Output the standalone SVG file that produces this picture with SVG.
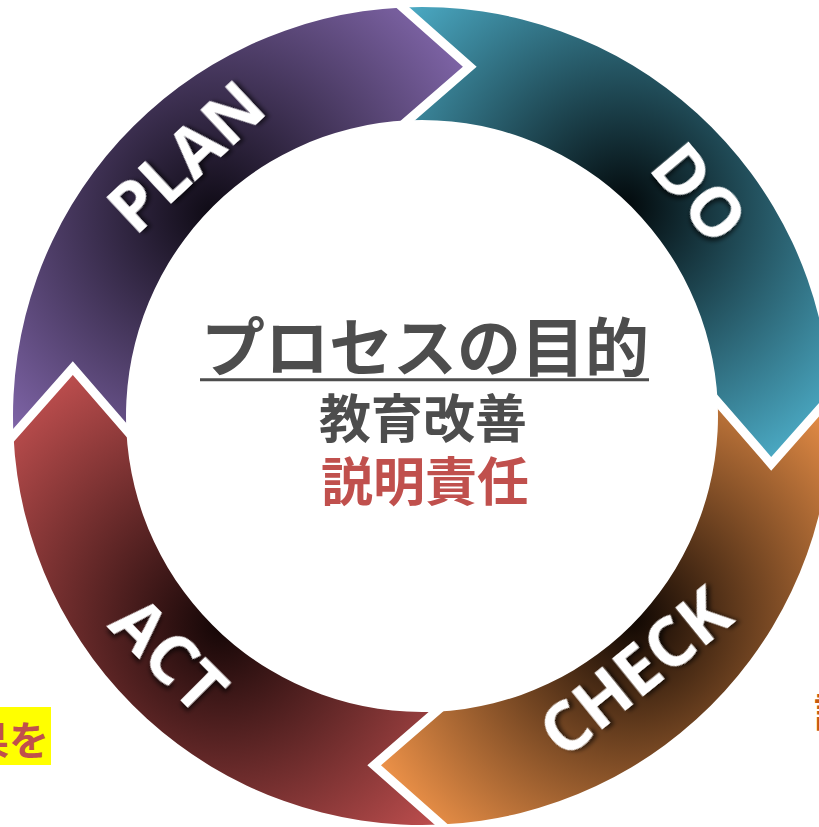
<svg xmlns="http://www.w3.org/2000/svg" width="819" height="827" viewBox="0 0 819 827">
  <defs>
    <radialGradient id="gPlan" gradientUnits="userSpaceOnUse" cx="213.4" cy="214.5" r="290">
      <stop offset="0" stop-color="#0e0a14"/>
      <stop offset="1" stop-color="#7d63a5"/>
    </radialGradient>
    <radialGradient id="gDo" gradientUnits="userSpaceOnUse" cx="623.4" cy="207.4" r="290">
      <stop offset="0" stop-color="#02080a"/>
      <stop offset="1" stop-color="#4aa8c2"/>
    </radialGradient>
    <radialGradient id="gCheck" gradientUnits="userSpaceOnUse" cx="630.6" cy="617.4" r="290">
      <stop offset="0" stop-color="#0e0602"/>
      <stop offset="1" stop-color="#ec9148"/>
    </radialGradient>
    <radialGradient id="gAct" gradientUnits="userSpaceOnUse" cx="220.6" cy="624.6" r="290">
      <stop offset="0" stop-color="#140606"/>
      <stop offset="1" stop-color="#bb4d4d"/>
    </radialGradient>
    <filter id="shadow" x="-20%" y="-40%" width="140%" height="180%">
      <feDropShadow dx="3" dy="3" stdDeviation="2" flood-color="#000" flood-opacity="0.6"/>
    </filter>
  </defs>
  <style>
    .lbl { font-family: "Open Sans", "Liberation Sans", sans-serif; font-weight: 700; font-size: 68px; fill: #ffffff; text-anchor: middle; filter: url(#shadow); }
    .cjk { font-family: "Noto Sans CJK JP", "Noto Sans", sans-serif; font-weight: 700; text-anchor: middle; }
    .gap { fill: none; stroke: #ffffff; stroke-width: 9; stroke-linejoin: miter; stroke-miterlimit: 10; }
  </style>
  <rect x="0" y="0" width="819" height="827" fill="#ffffff"/>

  <g id="plan">
    <path d="M 13.45 435.27 A 409 409 0 0 1 402.73 7.45 L 469.84 66.76 L 408.06 120.33 A 296 296 0 0 0 126.33 429.94 L 72.76 368.16 Z" fill="url(#gPlan)"/>
    <text class="lbl" transform="translate(186,157) rotate(-43)" x="0" y="24">PLAN</text>
  </g>
  <g id="do">
    <path d="M 402.73 7.45 A 409 409 0 0 1 830.55 396.73 L 771.24 463.84 L 717.67 402.06 A 296 296 0 0 0 408.06 120.33 L 469.84 66.76 Z" fill="url(#gDo)"/>
    <text class="lbl" transform="translate(699,193) rotate(50)" x="0" y="24">DO</text>
  </g>
  <g id="check">
    <path d="M 830.55 396.73 A 409 409 0 0 1 441.27 824.55 L 374.16 765.24 L 435.94 711.67 A 296 296 0 0 0 717.67 402.06 L 771.24 463.84 Z" fill="url(#gCheck)"/>
    <text class="lbl" transform="translate(635,672) rotate(-39)" x="0" y="24">CHECK</text>
  </g>
  <g id="act">
    <path d="M 441.27 824.55 A 409 409 0 0 1 13.45 435.27 L 72.76 368.16 L 126.33 429.94 A 296 296 0 0 0 435.94 711.67 L 374.16 765.24 Z" fill="url(#gAct)"/>
    <text class="lbl" transform="translate(169,655) rotate(45)" x="0" y="24">ACT</text>
  </g>

  <g id="connectors">
    <polyline class="gap" points="375.89,-16.27 469.84,66.76 383.35,141.76"/>
    <polyline class="gap" points="854.27,369.89 771.24,463.84 696.24,377.35"/>
    <polyline class="gap" points="468.11,848.27 374.16,765.24 460.65,690.24"/>
    <polyline class="gap" points="-10.27,462.11 72.76,368.16 147.76,454.65"/>
  </g>

  <g id="center">
    <text class="cjk" x="425" y="371" font-size="64" fill="#4d4d4d">プロセスの目的</text>
    <line x1="200" y1="379.7" x2="649" y2="379.7" stroke="#4d4d4d" stroke-width="3"/>
    <text class="cjk" x="423" y="438" font-size="52" fill="#4d4d4d">教育改善</text>
    <text class="cjk" x="425" y="501" font-size="52" fill="#c0504d">説明責任</text>
  </g>

  <g id="left-note">
    <rect x="-2" y="707" width="53" height="58" fill="#ffff00"/>
    <text class="cjk" x="49" y="755" font-size="40" fill="#c0504d" style="text-anchor:end">果を</text>
  </g>
  <g id="right-note">
    <text class="cjk" x="814" y="727" font-size="40" fill="#c55a11" style="text-anchor:start">評</text>
  </g>
</svg>
